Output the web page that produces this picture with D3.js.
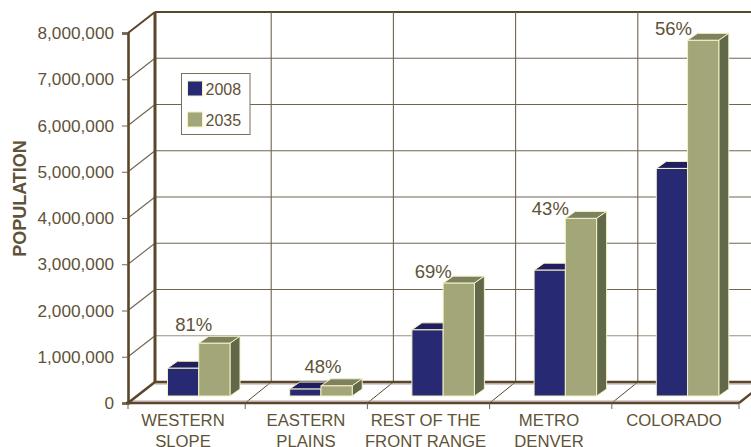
<!DOCTYPE html>
<html><head><meta charset="utf-8">
<script src="https://cdn.jsdelivr.net/npm/d3@7/dist/d3.min.js"></script>
<style>html,body{margin:0;padding:0;background:#fff}svg{display:block}text{font-family:"Liberation Sans",Arial,sans-serif}</style>
</head><body><svg id="c" width="751" height="447"></svg>
<script>
const categories = [["WESTERN","SLOPE"],["EASTERN","PLAINS"],["REST OF THE","FRONT RANGE"],["METRO","DENVER"],["COLORADO"]];
const pop2008 = [600000,150000,1430000,2720000,4920000];
const pop2035 = [1140000,220000,2440000,3840000,7690000];
const growth = ["81%","48%","69%","43%","56%"];
const yTicks = [0,1000000,2000000,3000000,4000000,5000000,6000000,7000000,8000000];
const seriesNames = ["2008","2035"];

const W=751,H=447, ink="#5e5238", axisDark="#5a4628", grid="#6f6450";
const front={x0:128,x1:739,y0:403,y1:33}, depth={dx:27,dy:-21}, barDepth={dx:10,dy:-7}, barBase=-7;
const svg=d3.select("#c");
const y=d3.scaleLinear().domain([0,8000000]).range([front.y0,front.y1]);
const x=d3.scaleBand().domain(d3.range(categories.length)).range([123,734]);
const inner=d3.scaleBand().domain([0,1]).range([44.5,107]);
const fmt=d3.format(",");
const poly=(g,pts,fill,stroke,sw)=>g.append("polygon").attr("points",pts.map(p=>p.join(",")).join(" ")).attr("fill",fill).attr("stroke",stroke||"none").attr("stroke-width",sw||0);
const line=(g,a,b,c,w)=>g.append("line").attr("x1",a[0]).attr("y1",a[1]).attr("x2",b[0]).attr("y2",b[1]).attr("stroke",c).attr("stroke-width",w);

const g=svg.append("g");
yTicks.forEach(t=>{
  const yy=y(t);
  if(t===0)return;
  const top=t===8000000;
  line(g,[front.x0,yy],[front.x0+depth.dx,yy+depth.dy],top?axisDark:grid,top?2:1.1);
  line(g,[front.x0+depth.dx,yy+depth.dy],[W+5,yy+depth.dy],t===1000000?"#9a9080":(top?axisDark:grid),top?1.8:1.2);
});
categories.forEach((c,i)=>{ if(i===0)return;
  const xx=x(i)+depth.dx-1;
  line(g,[xx,y(8000000)+depth.dy],[xx,y(0)+depth.dy],grid,1.1);
  line(g,[x(i),y(0)],[xx,y(0)+depth.dy],axisDark,1);
});
line(g,[front.x0+depth.dx,y(0)+depth.dy+2],[W+5,y(0)+depth.dy+2],"#b79bac",1);
line(g,[front.x0+depth.dx,y(0)+depth.dy],[W+5,y(0)+depth.dy],axisDark,2.6);
line(g,[front.x0,y(0)-2],[front.x1,y(0)-2],"#b79bac",1);
line(g,[front.x1,y(0)],[front.x1+14,y(0)-11],axisDark,2.4);
line(g,[front.x0,y(0)],[front.x0+depth.dx,y(0)+depth.dy],axisDark,2.6);
line(g,[front.x0+depth.dx,y(8000000)+depth.dy],[front.x0+depth.dx,y(0)+depth.dy],axisDark,3);

const lg=svg.append("g");
lg.append("rect").attr("x",181.5).attr("y",73.5).attr("width",68.5).attr("height",61).attr("fill","#fff").attr("stroke","#77705e").attr("stroke-width",1);

const colors=[{f:"#272a72",t:"#1f1f60",s:"#1a1a50"},{f:"#a2a678",t:"#7d8160",s:"#62684a"}];
const edge="#f4f1c4";
const bars=svg.append("g");
categories.forEach((c,i)=>{
  [pop2008,pop2035].forEach((arr,k)=>{
    const bx=x(i)+inner(k), bw=inner.bandwidth();
    const bt=y(arr[i])+barBase, bb=y(0)+barBase, d=barDepth;
    poly(bars,[[bx,bt],[bx+d.dx,bt+d.dy],[bx+bw+d.dx,bt+d.dy],[bx+bw,bt]],colors[k].t,edge,1);
    poly(bars,[[bx+bw,bt],[bx+bw+d.dx,bt+d.dy],[bx+bw+d.dx,bb+d.dy],[bx+bw,bb]],colors[k].s,edge,1);
  });
  [pop2008,pop2035].forEach((arr,k)=>{
    const bx=x(i)+inner(k), bw=inner.bandwidth();
    const bt=y(arr[i])+barBase, bb=y(0)+barBase;
    bars.append("rect").attr("x",bx).attr("y",bt).attr("width",bw).attr("height",bb-bt).attr("fill",colors[k].f).attr("stroke",edge).attr("stroke-width",1);
  });
});

// growth labels (offsets relative to the top of the 2035 bar)
const labelDx=[-5,2,-10,-15,-14], labelDy=[-12,-13,-5,-3,-5];
categories.forEach((c,i)=>{
  const bx=x(i)+inner(1);
  svg.append("text").attr("x",bx+labelDx[i]).attr("y",y(pop2035[i])+barBase+labelDy[i]).attr("text-anchor","middle").attr("font-size",18.5).attr("fill",ink).text(growth[i]);
});

seriesNames.forEach((n,k)=>{
  const ly=[81,112][k];
  lg.append("rect").attr("x",187.5).attr("y",ly).attr("width",15).attr("height",15).attr("fill",colors[k].f).attr("stroke",edge).attr("stroke-width",1);
  lg.append("text").attr("x",205.5).attr("y",ly+14).attr("font-size",16).attr("fill",ink).text(n);
});

const yAxis=d3.axisLeft(y).tickValues(yTicks).tickFormat(fmt).tickSize(6).tickPadding(8);
const ya=svg.append("g").attr("transform",`translate(${front.x0},0)`).call(yAxis);
ya.select(".domain").attr("stroke",axisDark).attr("stroke-width",2.6);
ya.selectAll(".tick line").attr("stroke",grid);
ya.selectAll("text").attr("font-family","Liberation Sans").attr("font-size",17.2).attr("fill",ink);

const xAxis=svg.append("g");
line(xAxis,[front.x0-2,y(0)],[front.x1,y(0)],axisDark,2.6);
const xLabelCenters=[183,306,425.5,549,674];
categories.forEach((c,i)=>{
  const tx=i===0?front.x0:x(i);
  line(xAxis,[tx,y(0)],[tx,y(0)+6],grid,1);
  c.forEach((l,j)=>{
    xAxis.append("text").attr("x",xLabelCenters[i]).attr("y",426+j*20.5).attr("text-anchor","middle").attr("font-size",16.7).attr("fill",ink).text(l);
  });
});
line(xAxis,[front.x1,y(0)],[front.x1,y(0)+6],grid,1);

svg.append("text").attr("transform","translate(26,198.5) rotate(-90)").attr("text-anchor","middle").attr("font-size",18).attr("font-weight","bold").attr("fill",ink).text("POPULATION");
</script></body></html>
